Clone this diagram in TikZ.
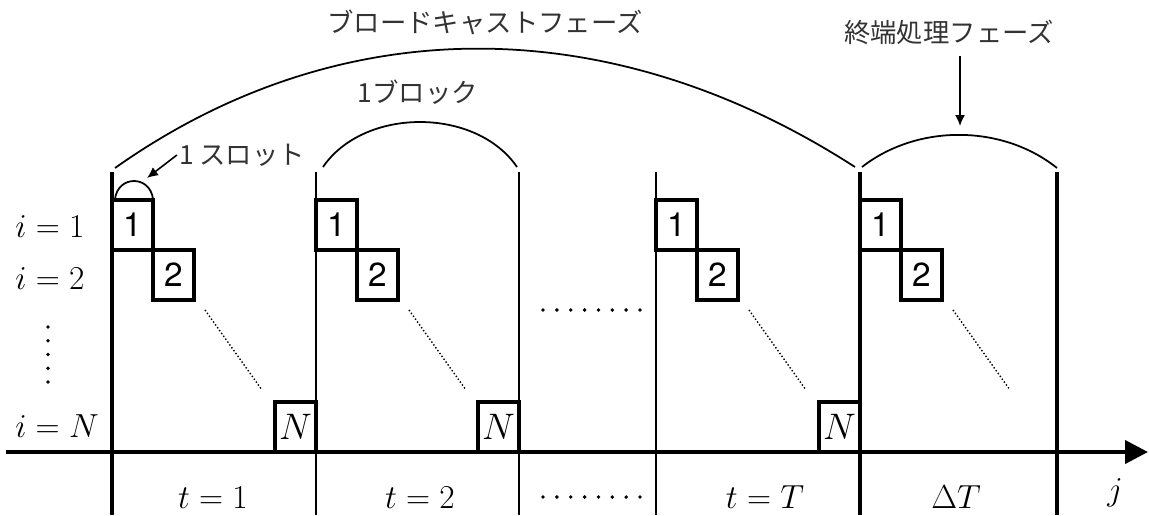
\RequirePackage{fix-cm}
\documentclass[tikz,border=0pt]{standalone}
\usepackage{fontspec}
\setsansfont{TeX Gyre Heros}
\newfontfamily\jpfont{Noto Sans CJK JP}
\usetikzlibrary{arrows.meta}

\begin{document}
\begin{tikzpicture}[x=0.02cm, y=-0.02cm,
        bar/.style={line width=2.3pt},
        subbar/.style={line width=1.4pt},
        cell/.style={draw, line width=1.9pt, minimum width=0.82cm, minimum height=1cm, inner sep=0pt, font=\fontsize{19}{21}\selectfont\sffamily},
        mlbl/.style={font=\fontsize{19}{21}\selectfont, anchor=base, inner sep=0pt},
        jlbl/.style={font=\fontsize{15}{17}\selectfont\jpfont, text=black!80, inner sep=1pt},
        arc/.style={line width=1pt},
        arr/.style={line width=0.9pt, -{Latex[length=0.22cm, width=0.2cm]}},
        dia/.style={line width=0.8pt, dash pattern=on 0.8pt off 1.2pt},
    ]
    \useasboundingbox (0,0) rectangle (1149,515);

    % time axis
    \coordinate (jtip) at (1148,452);
    \draw[bar, -{Triangle[length=0.46cm, width=0.46cm]}] (6,452) -- (jtip);

    % block borders
    \foreach \x in {112, 860, 1057} \draw[bar] (\x,172) -- (\x,515);
    \foreach \x in {316, 519, 656} \draw[subbar] (\x,172) -- (\x,515);

    % slots of each block
    \foreach \x in {112, 316, 656, 860} {
        \node[cell] (one\x) at (\x+20.5,225) {1};
        \node[cell] (two\x) at (\x+61.5,275) {2};
        \draw[dia] (\x+93,310) -- (\x+150,390);
    }
    \foreach \x/\nx in {112/316, 316/519, 656/860}
        \node[cell, font=\fontsize{21}{23}\selectfont] (n\x) at (\nx-20.5,427) {$N$};

    % row labels
    \node[mlbl] (r1) at (50,237) {$i=1$};
    \node[mlbl] (r2) at (50,289) {$i=2$};
    \node[mlbl] (rn) at (57,437) {$i=N$};
    \foreach \k in {0,...,4} \fill (48,327+\k*13.75) circle (1.1pt);

    % column labels
    \node[mlbl] (t1) at (213,508) {$t=1$};
    \node[mlbl] (t2) at (420,508) {$t=2$};
    \node[mlbl] (tT) at (765,508) {$t=T$};
    \node[mlbl] (dT) at (956,508) {$\Delta T$};
    \node[mlbl] (j) at (1115,500) {$j$};
    \foreach \k in {0,...,7} {
        \fill (543+\k*13.86,310) circle (1.1pt);
        \fill (543+\k*13.86,497) circle (1.1pt);
    }

    % phase arcs
    \draw[arc] (115,168) .. controls (340,9) and (610,9) .. (855,167);
    \draw[arc] (323,167) .. controls (364,107) and (476,107) .. (517,167);
    \draw[arc] (862,167) .. controls (917,124) and (1002,124) .. (1057,168);
    \draw[arc] (115,199) .. controls (118,175) and (150,175) .. (153,199);

    % phase labels
    \node[jlbl] (bcast) at (485,22) {ブロードキャストフェーズ};
    \node[jlbl] (term) at (949,32) {終端処理フェーズ};
    \node[jlbl] (blk) at (418,92) {1ブロック};
    \node[jlbl] (slot) at (242,155) {1 スロット};
    \coordinate (termtip) at (960,126);
    \coordinate (slottip) at (147,178);
    \draw[arr, shorten <=0.2cm] (term.south -| termtip) -- (termtip);
    \draw[arr] (slot.west) -- (slottip);
\end{tikzpicture}
\end{document}
